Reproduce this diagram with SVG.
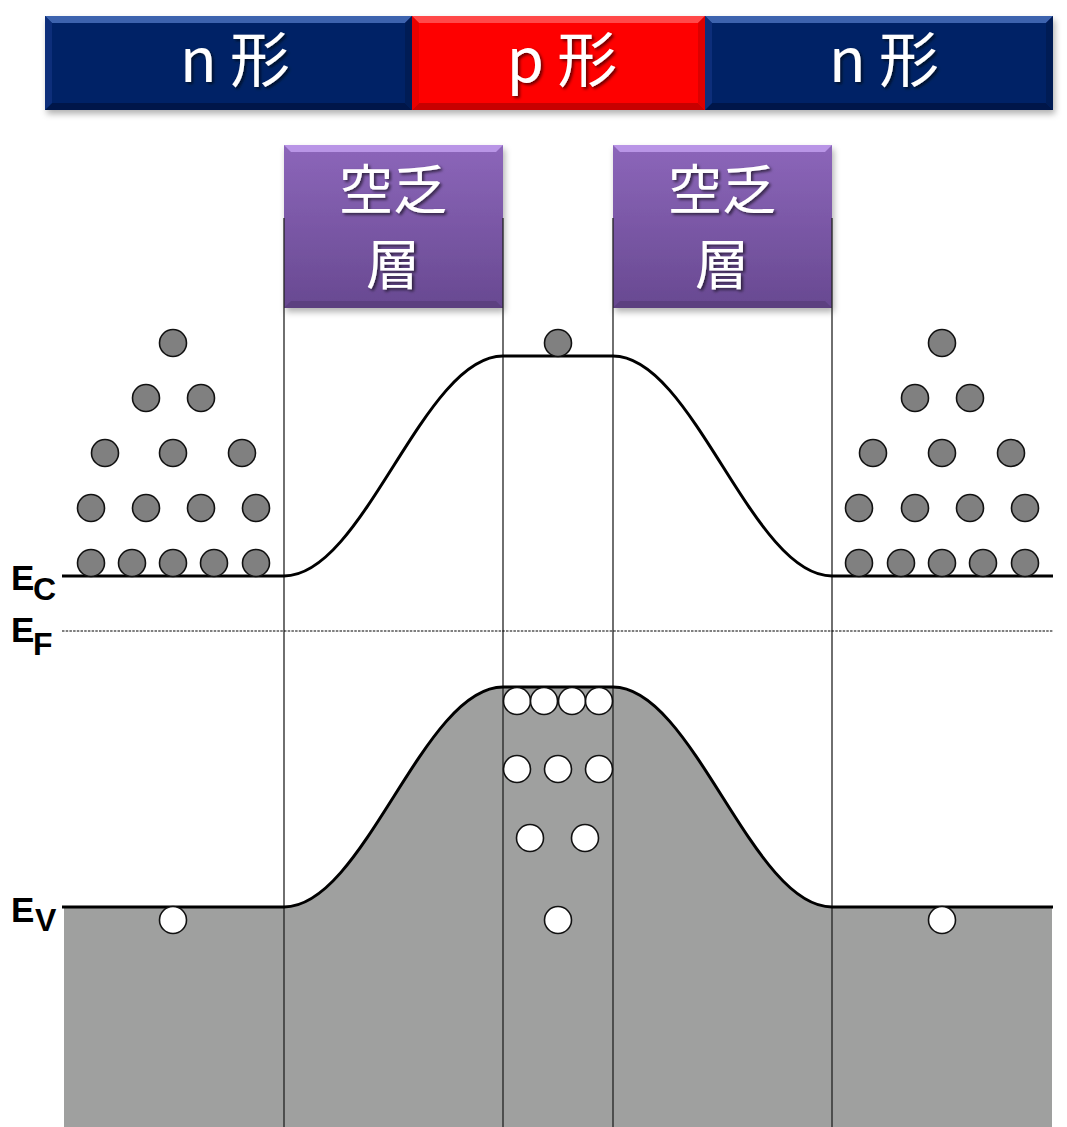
<svg xmlns="http://www.w3.org/2000/svg" width="1067" height="1127" viewBox="0 0 1067 1127">
  <defs>
    <filter id="boxShadow" x="-5%" y="-10%" width="115%" height="130%">
      <feDropShadow dx="2" dy="4" stdDeviation="3" flood-color="#000" flood-opacity="0.3"/>
    </filter>
    <filter id="textShadow" x="-10%" y="-10%" width="130%" height="130%">
      <feDropShadow dx="2" dy="2" stdDeviation="1.5" flood-color="#000" flood-opacity="0.6"/>
    </filter>
    <linearGradient id="purpleGrad" x1="0" y1="0" x2="0" y2="1">
      <stop offset="0" stop-color="#8c66ba"/>
      <stop offset="1" stop-color="#684991"/>
    </linearGradient>
    <style>
      .region { font-family: "Noto Sans CJK JP", "Noto Sans", sans-serif; font-size: 60px; fill: #fff; text-anchor: middle; }
      .depl { font-family: "Noto Sans CJK JP", sans-serif; font-size: 54px; fill: #fff; text-anchor: middle; }
      .band { fill: none; stroke: #000; stroke-width: 3; }
      .bound { stroke: #222; stroke-width: 1.3; }
      .elec { fill: #808080; stroke: #111; stroke-width: 1.6; }
      .hole { fill: #fff; stroke: #111; stroke-width: 1.6; }
      .lvl { font-family: "Liberation Sans", Arial, sans-serif; font-weight: bold; fill: #000; }
    </style>
  </defs>

  <rect width="1067" height="1127" fill="#fff"/>

  <!-- valence band fill -->
  <path d="M64,907 H284 C364,907 423,687 503,687 H613 C693,687 752,907 832,907 H1052 V1127 H64 Z" fill="#9fa09f"/>

  <!-- region bar -->
  <g id="bar" filter="url(#boxShadow)">
    <g id="n-left">
      <rect x="45" y="16" width="367" height="94" fill="#052466"/>
      <polygon points="45,16 412,16 405,23 52,23" fill="#3e63ae"/>
      <polygon points="45,110 412,110 405,103 52,103" fill="#03194a"/>
      <polygon points="45,16 52,23 52,103 45,110" fill="#0a2f7a"/>
      <polygon points="412,16 405,23 405,103 412,110" fill="#041d55"/>
      <text class="region" x="235" y="82" filter="url(#textShadow)">n 形</text>
    </g>
    <g id="p-mid">
      <rect x="412" y="16" width="293" height="94" fill="#fe0000"/>
      <polygon points="412,16 705,16 698,23 419,23" fill="#ff4848"/>
      <polygon points="412,110 705,110 698,103 419,103" fill="#c80000"/>
      <polygon points="412,16 419,23 419,103 412,110" fill="#e80000"/>
      <polygon points="705,16 698,23 698,103 705,110" fill="#dd0000"/>
      <text class="region" x="562" y="82" filter="url(#textShadow)">p 形</text>
    </g>
    <g id="n-right">
      <rect x="705" y="16" width="348" height="94" fill="#052466"/>
      <polygon points="705,16 1053,16 1046,23 712,23" fill="#3e63ae"/>
      <polygon points="705,110 1053,110 1046,103 712,103" fill="#03194a"/>
      <polygon points="705,16 712,23 712,103 705,110" fill="#0a2f7a"/>
      <polygon points="1053,16 1046,23 1046,103 1053,110" fill="#041d55"/>
      <text class="region" x="884" y="82" filter="url(#textShadow)">n 形</text>
    </g>
  </g>

  <!-- depletion layer labels -->
  <g id="depletion-left" filter="url(#boxShadow)">
    <rect x="284" y="145" width="219" height="163" fill="url(#purpleGrad)"/>
    <polygon points="284,145 503,145 496,152 291,152" fill="#b995e6"/>
    <polygon points="284,308 503,308 496,301 291,301" fill="#5b3f80"/>
    <text class="depl" x="393" y="210" filter="url(#textShadow)">空乏</text>
    <text class="depl" x="393" y="285" filter="url(#textShadow)">層</text>
  </g>
  <g id="depletion-right" filter="url(#boxShadow)">
    <rect x="613" y="145" width="219" height="163" fill="url(#purpleGrad)"/>
    <polygon points="613,145 832,145 825,152 620,152" fill="#b995e6"/>
    <polygon points="613,308 832,308 825,301 620,301" fill="#5b3f80"/>
    <text class="depl" x="722" y="210" filter="url(#textShadow)">空乏</text>
    <text class="depl" x="722" y="285" filter="url(#textShadow)">層</text>
  </g>

  <!-- region boundaries, band edges and Fermi level -->
  <g id="connectors">
    <line class="bound" x1="284" y1="218" x2="284" y2="1127"/>
    <line class="bound" x1="503" y1="218" x2="503" y2="1127"/>
    <line class="bound" x1="613" y1="218" x2="613" y2="1127"/>
    <line class="bound" x1="832" y1="218" x2="832" y2="1127"/>
    <path class="band" d="M62,576 H284 C364,576 423,356 503,356 H613 C693,356 752,576 832,576 H1053"/>
    <path class="band" d="M62,907 H284 C364,907 423,687 503,687 H613 C693,687 752,907 832,907 H1053"/>
    <line x1="62" y1="631" x2="1053" y2="631" stroke="#000" stroke-width="1.2" stroke-dasharray="2.5,1.2"/>
  </g>

  <!-- energy level labels -->
  <g id="label-ec">
    <text class="lvl" x="11" y="590" font-size="35">E</text>
    <text class="lvl" x="33" y="600" font-size="32">C</text>
  </g>
  <g id="label-ef">
    <text class="lvl" x="11" y="642" font-size="35">E</text>
    <text class="lvl" x="33" y="655" font-size="32">F</text>
  </g>
  <g id="label-ev">
    <text class="lvl" x="11" y="922" font-size="35">E</text>
    <text class="lvl" x="35" y="931" font-size="32">V</text>
  </g>

  <!-- electrons, n region (left) -->
  <g id="electrons-left">
    <circle class="elec" cx="173" cy="343" r="13.5"/>
    <circle class="elec" cx="146" cy="398" r="13.5"/>
    <circle class="elec" cx="201" cy="398" r="13.5"/>
    <circle class="elec" cx="105" cy="453" r="13.5"/>
    <circle class="elec" cx="173" cy="453" r="13.5"/>
    <circle class="elec" cx="242" cy="453" r="13.5"/>
    <circle class="elec" cx="91" cy="508" r="13.5"/>
    <circle class="elec" cx="146" cy="508" r="13.5"/>
    <circle class="elec" cx="201" cy="508" r="13.5"/>
    <circle class="elec" cx="256" cy="508" r="13.5"/>
    <circle class="elec" cx="91" cy="563" r="13.5"/>
    <circle class="elec" cx="132" cy="563" r="13.5"/>
    <circle class="elec" cx="173" cy="563" r="13.5"/>
    <circle class="elec" cx="214" cy="563" r="13.5"/>
    <circle class="elec" cx="256" cy="563" r="13.5"/>
  </g>

  <!-- electrons, n region (right) -->
  <g id="electrons-right">
    <circle class="elec" cx="942" cy="343" r="13.5"/>
    <circle class="elec" cx="915" cy="398" r="13.5"/>
    <circle class="elec" cx="970" cy="398" r="13.5"/>
    <circle class="elec" cx="873" cy="453" r="13.5"/>
    <circle class="elec" cx="942" cy="453" r="13.5"/>
    <circle class="elec" cx="1011" cy="453" r="13.5"/>
    <circle class="elec" cx="859" cy="508" r="13.5"/>
    <circle class="elec" cx="915" cy="508" r="13.5"/>
    <circle class="elec" cx="970" cy="508" r="13.5"/>
    <circle class="elec" cx="1025" cy="508" r="13.5"/>
    <circle class="elec" cx="859" cy="563" r="13.5"/>
    <circle class="elec" cx="901" cy="563" r="13.5"/>
    <circle class="elec" cx="942" cy="563" r="13.5"/>
    <circle class="elec" cx="983" cy="563" r="13.5"/>
    <circle class="elec" cx="1025" cy="563" r="13.5"/>
  </g>

  <!-- electron, p region -->
  <g id="electron-mid">
    <circle class="elec" cx="558" cy="343" r="13.5"/>
  </g>

  <!-- holes -->
  <g id="holes-mid">
    <circle class="hole" cx="517" cy="701" r="13.5"/>
    <circle class="hole" cx="544" cy="701" r="13.5"/>
    <circle class="hole" cx="572" cy="701" r="13.5"/>
    <circle class="hole" cx="599" cy="701" r="13.5"/>
    <circle class="hole" cx="517" cy="769" r="13.5"/>
    <circle class="hole" cx="558" cy="769" r="13.5"/>
    <circle class="hole" cx="599" cy="769" r="13.5"/>
    <circle class="hole" cx="530" cy="838" r="13.5"/>
    <circle class="hole" cx="585" cy="838" r="13.5"/>
    <circle class="hole" cx="558" cy="920" r="13.5"/>
  </g>
  <g id="hole-left">
    <circle class="hole" cx="173" cy="920" r="13.5"/>
  </g>
  <g id="hole-right">
    <circle class="hole" cx="942" cy="920" r="13.5"/>
  </g>
</svg>
